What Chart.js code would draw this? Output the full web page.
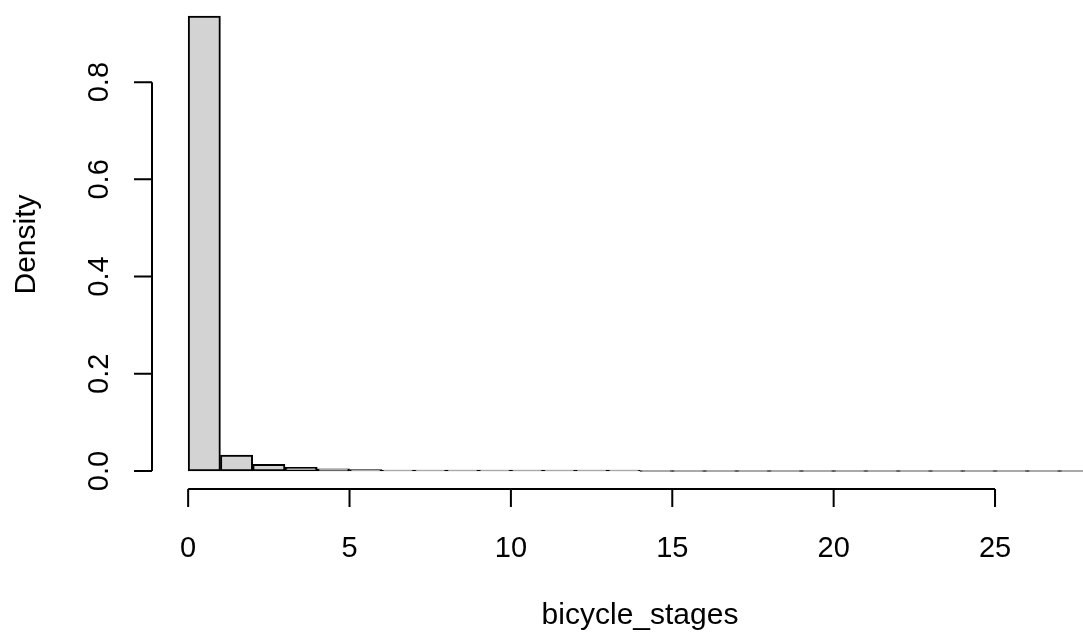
<!DOCTYPE html>
<html>
<head>
<meta charset="utf-8">
<script src="https://cdn.jsdelivr.net/npm/chart.js@4.4.0/dist/chart.umd.min.js"></script>
<style>
	html, body { margin: 0; padding: 0; background: #fff; overflow: hidden; }
	#wrap { width: 1130px; height: 641px; }
</style>
</head>
<body>
<div id="wrap"><canvas id="myChart" width="1130" height="641"></canvas></div>
<script>
// histogram bins (left edges, width 1) and densities
const binStarts = [0, 1, 2, 3, 4, 5, 6, 7, 8, 9, 10, 11, 12, 13, 14, 15, 16, 17, 18, 19, 20, 21, 22, 23, 24, 25, 26, 27];
const densities = [0.936, 0.033, 0.014, 0.0078, 0.0045, 0.003, 0.0018, 0.0009, 0.0007, 0.0005, 0.0004, 0.0003, 0.0003, 0.0003,
	0, 0, 0, 0, 0, 0, 0, 0, 0, 0, 0, 0, 0, 0];
const xTicks = [0, 5, 10, 15, 20, 25];
const yTicks = [0, 0.2, 0.4, 0.6, 0.8];
const yTickLabels = ['0.0', '0.2', '0.4', '0.6', '0.8'];
const xTitle = 'bicycle_stages';
const yTitle = 'Density';

const FONT = '29px "Liberation Sans", Arial, Helvetica, sans-serif';
const TITLE_FONT = '30px "Liberation Sans", Arial, Helvetica, sans-serif';

// R style detached axes, drawn from the chart's own scales
const rAxes = {
	id: 'rAxes',
	afterDraw(chart) {
		const ctx = chart.ctx;
		const xs = chart.scales.x;
		const ys = chart.scales.y;
		const area = chart.chartArea;
		ctx.save();
		ctx.strokeStyle = '#000';
		ctx.fillStyle = '#000';
		ctx.lineWidth = 2;
		ctx.font = FONT;

		// x axis
		const xb = area.bottom;
		ctx.beginPath();
		ctx.moveTo(xs.getPixelForValue(xTicks[0]), xb);
		ctx.lineTo(xs.getPixelForValue(xTicks[xTicks.length - 1]), xb);
		xTicks.forEach((t) => {
			const px = xs.getPixelForValue(t);
			ctx.moveTo(px, xb);
			ctx.lineTo(px, xb + 18);
		});
		ctx.stroke();
		ctx.textAlign = 'center';
		ctx.textBaseline = 'alphabetic';
		xTicks.forEach((t) => {
			ctx.fillText(String(t), xs.getPixelForValue(t), xb + 68);
		});
		ctx.font = TITLE_FONT;
		ctx.fillText(xTitle, (area.left + area.right) / 2, xb + 135);

		// y axis
		const yl = area.left;
		ctx.beginPath();
		ctx.moveTo(yl, ys.getPixelForValue(yTicks[0]));
		ctx.lineTo(yl, ys.getPixelForValue(yTicks[yTicks.length - 1]));
		yTicks.forEach((t) => {
			const py = ys.getPixelForValue(t);
			ctx.moveTo(yl, py);
			ctx.lineTo(yl - 18, py);
		});
		ctx.stroke();
		ctx.font = FONT;
		yTicks.forEach((t, i) => {
			ctx.save();
			ctx.translate(yl - 44, ys.getPixelForValue(t));
			ctx.rotate(-Math.PI / 2);
			ctx.fillText(yTickLabels[i], 0, 0);
			ctx.restore();
		});
		ctx.save();
		ctx.font = TITLE_FONT;
		ctx.translate(35, (area.top + area.bottom) / 2);
		ctx.rotate(-Math.PI / 2);
		ctx.fillText(yTitle, 0, 0);
		ctx.restore();

		ctx.restore();
	}
};

const ctx = document.getElementById('myChart').getContext('2d');
const myChart = new Chart(ctx, {
	type: 'bar',
	data: {
		datasets: [
			{
				label: 'bicycle_stages',
				data: binStarts.map((b, i) => ({ x: b + 0.5, y: densities[i] })),
				backgroundColor: '#d3d3d3',
				borderColor: '#000',
				borderWidth: 2,
				borderSkipped: false,
				minBarLength: 1,
				barPercentage: 1,
				categoryPercentage: 1,
				grouped: false
			}
		]
	},
	options: {
		responsive: false,
		animation: false,
		devicePixelRatio: 1,
		layout: {
			padding: { left: 152, right: 2, top: 0, bottom: 152 }
		},
		scales: {
			x: {
				type: 'linear',
				display: false,
				offset: false,
				min: -1.12,
				max: 29.12
			},
			y: {
				display: false,
				min: -0.037,
				max: 0.969
			}
		},
		plugins: {
			legend: { display: false },
			tooltip: { enabled: false }
		}
	},
	plugins: [rAxes]
});
</script>
</body>
</html>
